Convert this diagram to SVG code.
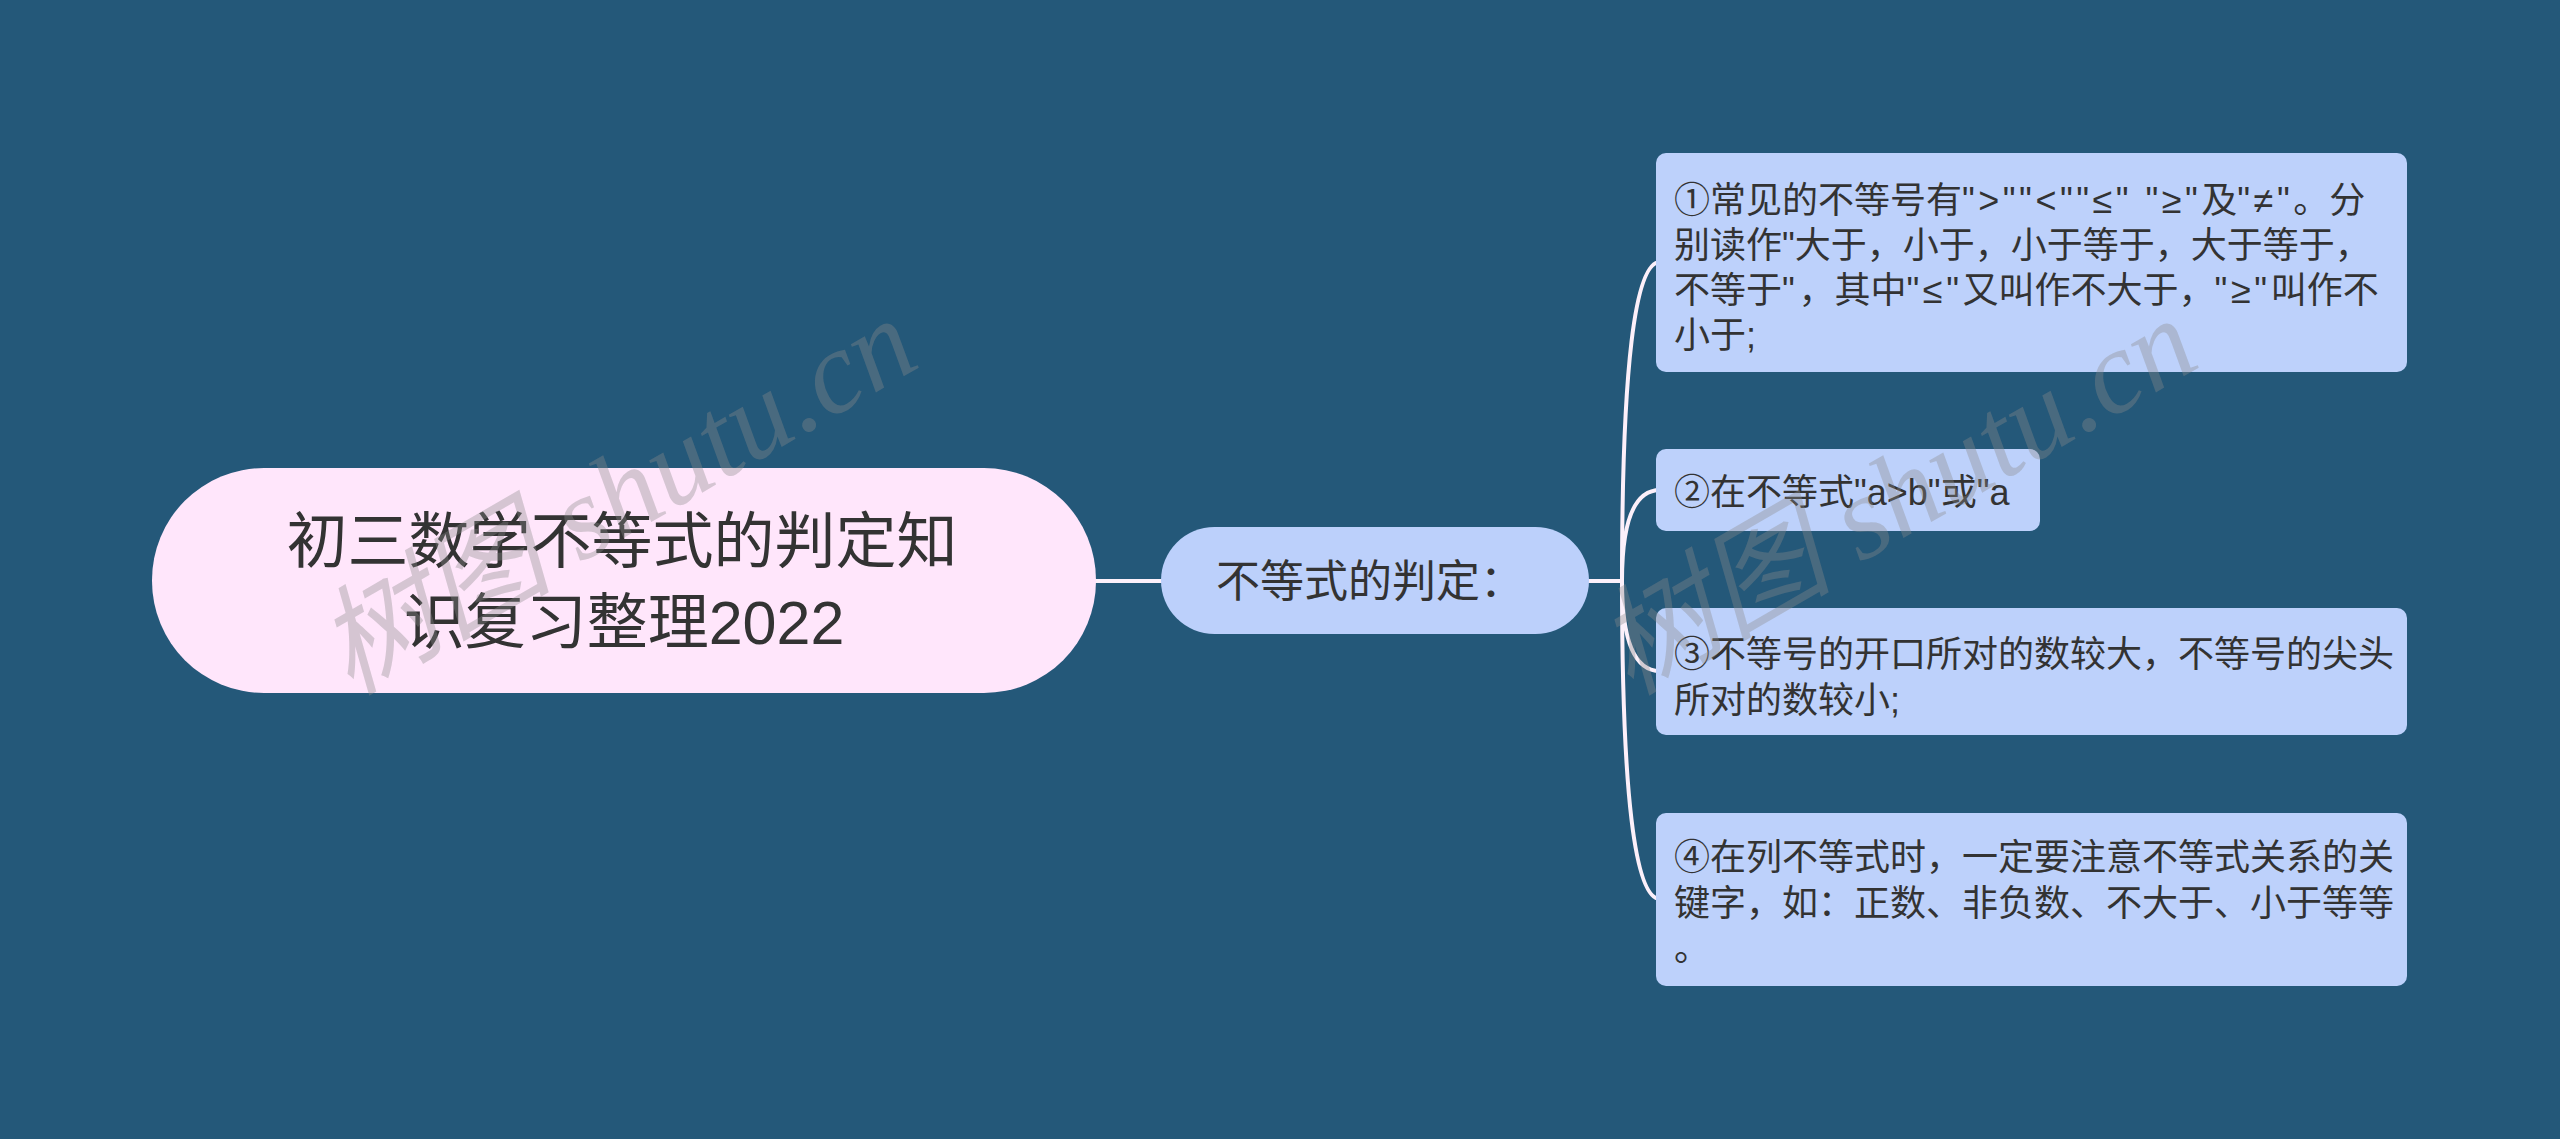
<svg xmlns="http://www.w3.org/2000/svg" width="2560" height="1139" viewBox="0 0 2560 1139">
<style>
.t{font-family:"Liberation Sans","Noto Sans CJK SC",sans-serif;fill:#333333}
.lf{font-size:36px}
.sp{letter-spacing:3.5px}
.sp5{letter-spacing:3.6px}
.root{fill:#ffe6fb}
.mid{fill:#bcd0fb}
.leaf{fill:#bdd1fb}
.c{fill:none;stroke:#fcf0fa;stroke-width:4}
.wm{font-family:"Liberation Serif","Noto Sans CJK SC",serif;font-style:italic;font-size:118px;fill:#8a8a8a;fill-opacity:0.36}
</style>
<rect width="2560" height="1139" fill="#245879"/>
<g id="connectors">
<path class="c" d="M1090 581 H1165"/>
<path class="c" d="M1585 581 H1622 Q1622 262 1660 262"/>
<path class="c" d="M1585 581 H1622 Q1622 490 1660 490"/>
<path class="c" d="M1585 581 H1622 Q1622 671 1660 671"/>
<path class="c" d="M1585 581 H1622 Q1622 899 1660 899"/>
</g>
<g id="root">
<rect class="root" x="152" y="468" width="944" height="225" rx="112"/>
<text class="t" font-size="61" text-anchor="middle"><tspan x="622" y="563">初三数学不等式的判定知</tspan><tspan x="624" y="644">识复习整理2022</tspan></text>
</g>
<g id="mid">
<rect class="mid" x="1161" y="527" width="428" height="107" rx="53.5"/>
<text class="t" font-size="44" x="1216" y="597">不等式的判定：</text>
</g>
<g id="leaf1">
<rect class="leaf" x="1656" y="153" width="751" height="219" rx="10"/>
<text class="t lf"><tspan x="1674" y="213">①常见的不等号有<tspan class="sp">"&gt;""&lt;""≤" "≥"</tspan>及<tspan class="sp">"≠"</tspan>。分</tspan><tspan x="1674" y="258">别读作"大于，小于，小于等于，大于等于，</tspan><tspan x="1674" y="303">不等于<tspan class="sp5">"</tspan>，其中<tspan class="sp5">"≤"</tspan>又叫作不大于，<tspan class="sp5">"≥"</tspan>叫作不</tspan><tspan x="1674" y="348">小于;</tspan></text>
</g>
<g id="leaf2">
<rect class="leaf" x="1656" y="449" width="384" height="82" rx="10"/>
<text class="t lf" x="1674" y="505">②在不等式"a&gt;b"或"a</text>
</g>
<g id="leaf3">
<rect class="leaf" x="1656" y="608" width="751" height="127" rx="10"/>
<text class="t lf"><tspan x="1674" y="667">③不等号的开口所对的数较大，不等号的尖头</tspan><tspan x="1674" y="713">所对的数较小;</tspan></text>
</g>
<g id="leaf4">
<rect class="leaf" x="1656" y="813" width="751" height="173" rx="10"/>
<text class="t lf"><tspan x="1674" y="870">④在列不等式时，一定要注意不等式关系的关</tspan><tspan x="1674" y="916">键字，如：正数、非负数、不大于、小于等等</tspan><tspan x="1674" y="961">。</tspan></text>
</g>
<g id="watermarks">
<text class="wm" x="350" y="696" transform="rotate(-30 350 696)">树图 shutu.cn</text>
<text class="wm" x="1630" y="696" transform="rotate(-30 1630 696)">树图 shutu.cn</text>
</g>
</svg>
